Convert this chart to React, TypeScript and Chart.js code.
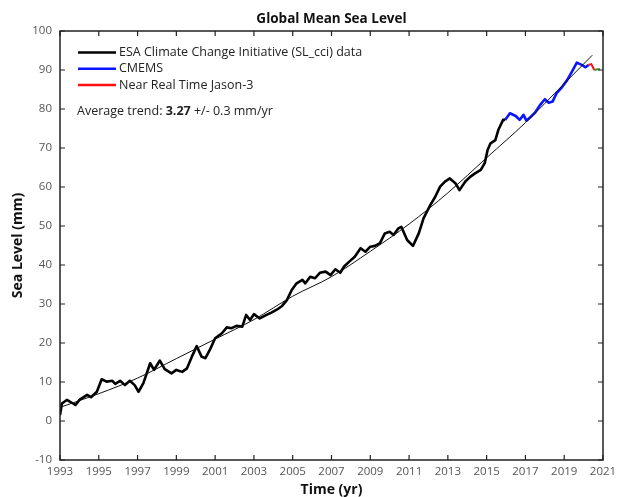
import React, { useEffect, useRef } from 'react';
import { Chart, registerables } from 'chart.js';

Chart.register(...registerables);

const chartTitle = 'Global Mean Sea Level';
const xTitle = 'Time (yr)';
const yTitle = 'Sea Level (mm)';
const seriesLabels = ['ESA Climate Change Initiative (SL_cci) data', 'CMEMS', 'Near Real Time Jason-3'];
const seriesColors = ['#000000', '#0a14ff', '#ff1010'];
const trendLabelStart = 'Average trend: ';
const trendLabelBold = '3.27';
const trendLabelEnd = ' +/- 0.3 mm/yr';

const esaYears = [
  1993.0, 1993.1, 1993.35, 1993.5, 1993.8, 1994.0, 1994.4, 1994.6, 1994.9, 1995.15,
  1995.4, 1995.7, 1995.85, 1996.1, 1996.35, 1996.6, 1996.85, 1997.05, 1997.3, 1997.65,
  1997.85, 1998.15, 1998.4, 1998.75, 1999.0, 1999.3, 1999.55, 1999.8, 2000.05, 2000.3,
  2000.5, 2000.75, 2001.0, 2001.35, 2001.6, 2001.85, 2002.1, 2002.4, 2002.6, 2002.8,
  2003.0, 2003.3, 2003.65, 2003.9, 2004.2, 2004.45, 2004.7, 2004.95, 2005.2, 2005.5,
  2005.65, 2005.9, 2006.15, 2006.4, 2006.7, 2006.95, 2007.2, 2007.45, 2007.65, 2007.9,
  2008.2, 2008.5, 2008.75, 2009.0, 2009.25, 2009.5, 2009.75, 2010.0, 2010.2, 2010.45,
  2010.6, 2010.9, 2011.2, 2011.5, 2011.75, 2012.1, 2012.35, 2012.6, 2012.85, 2013.1,
  2013.4, 2013.6, 2013.9, 2014.15, 2014.4, 2014.7, 2014.9, 2015.05, 2015.2, 2015.45,
  2015.6, 2015.85, 2015.95,
];
const esaValues = [
  1.5, 4.5, 5.4, 5.0, 4.1, 5.4, 6.7, 6.1, 7.5, 10.7,
  10.1, 10.3, 9.5, 10.3, 9.2, 10.3, 9.2, 7.5, 9.7, 14.8,
  13.1, 15.5, 13.3, 12.2, 13.1, 12.6, 13.5, 16.5, 19.2, 16.5,
  16.1, 18.5, 21.2, 22.5, 24.0, 23.8, 24.4, 24.2, 27.2, 25.9,
  27.4, 26.3, 27.2, 27.8, 28.6, 29.5, 31.0, 33.6, 35.3, 36.2,
  35.3, 37.0, 36.6, 38.0, 38.3, 37.4, 38.9, 38.0, 39.6, 40.8,
  42.1, 44.3, 43.4, 44.7, 44.9, 45.6, 48.1, 48.5, 47.7, 49.4,
  49.8, 46.4, 44.9, 48.1, 52.0, 55.4, 57.5, 60.1, 61.4, 62.2,
  60.9, 59.2, 61.4, 62.6, 63.5, 64.4, 66.1, 69.5, 71.2, 72.0,
  74.6, 77.2, 77.2,
];

const cmemsYears = [
  2015.95, 2016.2, 2016.5, 2016.7, 2016.9, 2017.05, 2017.25, 2017.5, 2017.75, 2018.0,
  2018.2, 2018.4, 2018.6, 2018.9, 2019.15, 2019.4, 2019.65, 2019.9, 2020.1, 2020.25,
];
const cmemsValues = [
  77.2, 78.9, 78.2, 77.2, 78.5, 77.0, 77.9, 79.1, 81.0, 82.5,
  81.6, 81.9, 84.0, 85.7, 87.4, 89.6, 91.9, 91.3, 90.7, 91.3,
];

const nrtYears = [2020.25, 2020.4, 2020.55];
const nrtValues = [91.3, 91.5, 90.0];

const extraYears = [2020.55, 2020.7, 2020.85];
const extraValues = [90.0, 90.2, 90.2];

const trendYears = [1993, 1995, 1997, 1999, 2001, 2003, 2005, 2007, 2009, 2011, 2013, 2015, 2017, 2019, 2020.45];
const trendValues = [3.5, 7.0, 11.0, 16.0, 21.0, 26.0, 32.0, 37.0, 43.5, 50.5, 58.5, 67.5, 76.5, 86.5, 93.8];

const xMin = 1993;
const xMax = 2021;
const xStep = 2;
const yMin = -10;
const yMax = 100;
const yStep = 10;

const FONT = '"Open Sans", "DejaVu Sans", sans-serif';

function pts(xs: number[], ys: number[]) {
  return xs.map((x, i) => ({ x, y: ys[i] }));
}

const decorPlugin = {
  id: 'decor',
  afterDatasetsDraw(chart: any) {
    const { ctx, chartArea } = chart;
    const { left, right, top, bottom } = chartArea;
    const xs = chart.scales.x;
    const ys = chart.scales.y;
    ctx.save();
    // frame
    ctx.strokeStyle = '#222';
    ctx.lineWidth = 1.5;
    ctx.strokeRect(left, top, right - left, bottom - top);
    // inward ticks
    ctx.lineWidth = 1.2;
    const tl = 5;
    xs.ticks.forEach((t: any) => {
      const px = xs.getPixelForValue(t.value);
      ctx.beginPath();
      ctx.moveTo(px, bottom);
      ctx.lineTo(px, bottom - tl);
      ctx.moveTo(px, top);
      ctx.lineTo(px, top + tl);
      ctx.stroke();
    });
    ys.ticks.forEach((t: any) => {
      const py = ys.getPixelForValue(t.value);
      ctx.beginPath();
      ctx.moveTo(left, py);
      ctx.lineTo(left + tl, py);
      ctx.moveTo(right, py);
      ctx.lineTo(right - tl, py);
      ctx.stroke();
    });

    // legend
    ctx.textBaseline = 'middle';
    ctx.textAlign = 'left';
    const fs = 12.5;
    ctx.font = `${fs}px ${FONT}`;
    const lx0 = left + 18;
    const lx1 = left + 56;
    seriesLabels.forEach((lab, i) => {
      const ly = top + 21.5 + i * 16.3;
      ctx.strokeStyle = seriesColors[i];
      ctx.lineWidth = 2.5;
      ctx.beginPath();
      ctx.moveTo(lx0, ly);
      ctx.lineTo(lx1, ly);
      ctx.stroke();
      ctx.fillStyle = '#222';
      ctx.fillText(lab, lx1 + 3, ly);
    });
    // trend text
    const ty = top + 80;
    let tx = left + 17;
    ctx.fillStyle = '#222';
    ctx.font = `${fs}px ${FONT}`;
    ctx.fillText(trendLabelStart, tx, ty);
    tx += ctx.measureText(trendLabelStart).width;
    ctx.font = `bold ${fs}px ${FONT}`;
    ctx.fillText(trendLabelBold, tx, ty);
    tx += ctx.measureText(trendLabelBold).width;
    ctx.font = `${fs}px ${FONT}`;
    ctx.fillText(trendLabelEnd, tx, ty);

    // titles
    const cx = (left + right) / 2;
    ctx.fillStyle = '#111';
    ctx.textAlign = 'center';
    ctx.font = `bold 13.5px ${FONT}`;
    ctx.fillText(chartTitle, cx, 19);
    ctx.font = `bold 14px ${FONT}`;
    ctx.fillText(xTitle, cx, 490);
    ctx.save();
    ctx.translate(18, (top + bottom) / 2);
    ctx.rotate(-Math.PI / 2);
    ctx.fillText(yTitle, 0, 0);
    ctx.restore();
    ctx.restore();
  },
};

export default function App() {
  const ref = useRef<HTMLCanvasElement | null>(null);
  useEffect(() => {
    if (!ref.current) return;
    const chart = new Chart(ref.current, {
      type: 'line',
      data: {
        datasets: [
          {
            label: 'trend',
            data: pts(trendYears, trendValues),
            borderColor: '#111',
            borderWidth: 1,
            pointRadius: 0,
            cubicInterpolationMode: 'monotone',
          },
          {
            label: seriesLabels[0],
            data: pts(esaYears, esaValues),
            borderColor: seriesColors[0],
            borderWidth: 2.6,
            pointRadius: 0,
            borderJoinStyle: 'round',
          },
          {
            label: seriesLabels[1],
            data: pts(cmemsYears, cmemsValues),
            borderColor: seriesColors[1],
            borderWidth: 2.6,
            pointRadius: 0,
            borderJoinStyle: 'round',
          },
          {
            label: seriesLabels[2],
            data: pts(nrtYears, nrtValues),
            borderColor: seriesColors[2],
            borderWidth: 2,
            pointRadius: 0,
          },
          {
            label: 'extra',
            data: pts(extraYears, extraValues),
            borderColor: '#2ca02c',
            borderWidth: 2,
            pointRadius: 0,
          },
        ],
      },
      options: {
        responsive: false,
        animation: false,
        parsing: true,
        layout: { padding: { left: 0, top: 31, right: 19, bottom: 0 } },
        plugins: {
          legend: { display: false },
          tooltip: { enabled: false },
          title: { display: false },
        },
        scales: {
          x: {
            type: 'linear',
            min: xMin,
            max: xMax,
            grid: { display: false, drawTicks: false },
            border: { display: false },
            ticks: {
              stepSize: xStep,
              autoSkip: false,
              maxRotation: 0,
              padding: 5,
              color: '#555',
              font: { family: FONT, size: 11.5 },
              callback: (v: any) => String(v),
            },
            afterFit: (s: any) => {
              s.height = 37;
            },
          },
          y: {
            type: 'linear',
            min: yMin,
            max: yMax,
            grid: { display: false, drawTicks: false },
            border: { display: false },
            ticks: {
              stepSize: yStep,
              padding: 8,
              color: '#555',
              font: { family: FONT, size: 11.5 },
              callback: (v: any) => String(v),
            },
            afterFit: (s: any) => {
              s.width = 60;
            },
          },
        },
      },
      plugins: [decorPlugin],
    });
    return () => chart.destroy();
  }, []);
  return (
    <div style={{ position: 'absolute', left: 0, top: 0, width: 622, height: 497, background: '#fff' }}>
      <canvas ref={ref} width={622} height={497} />
    </div>
  );
}
